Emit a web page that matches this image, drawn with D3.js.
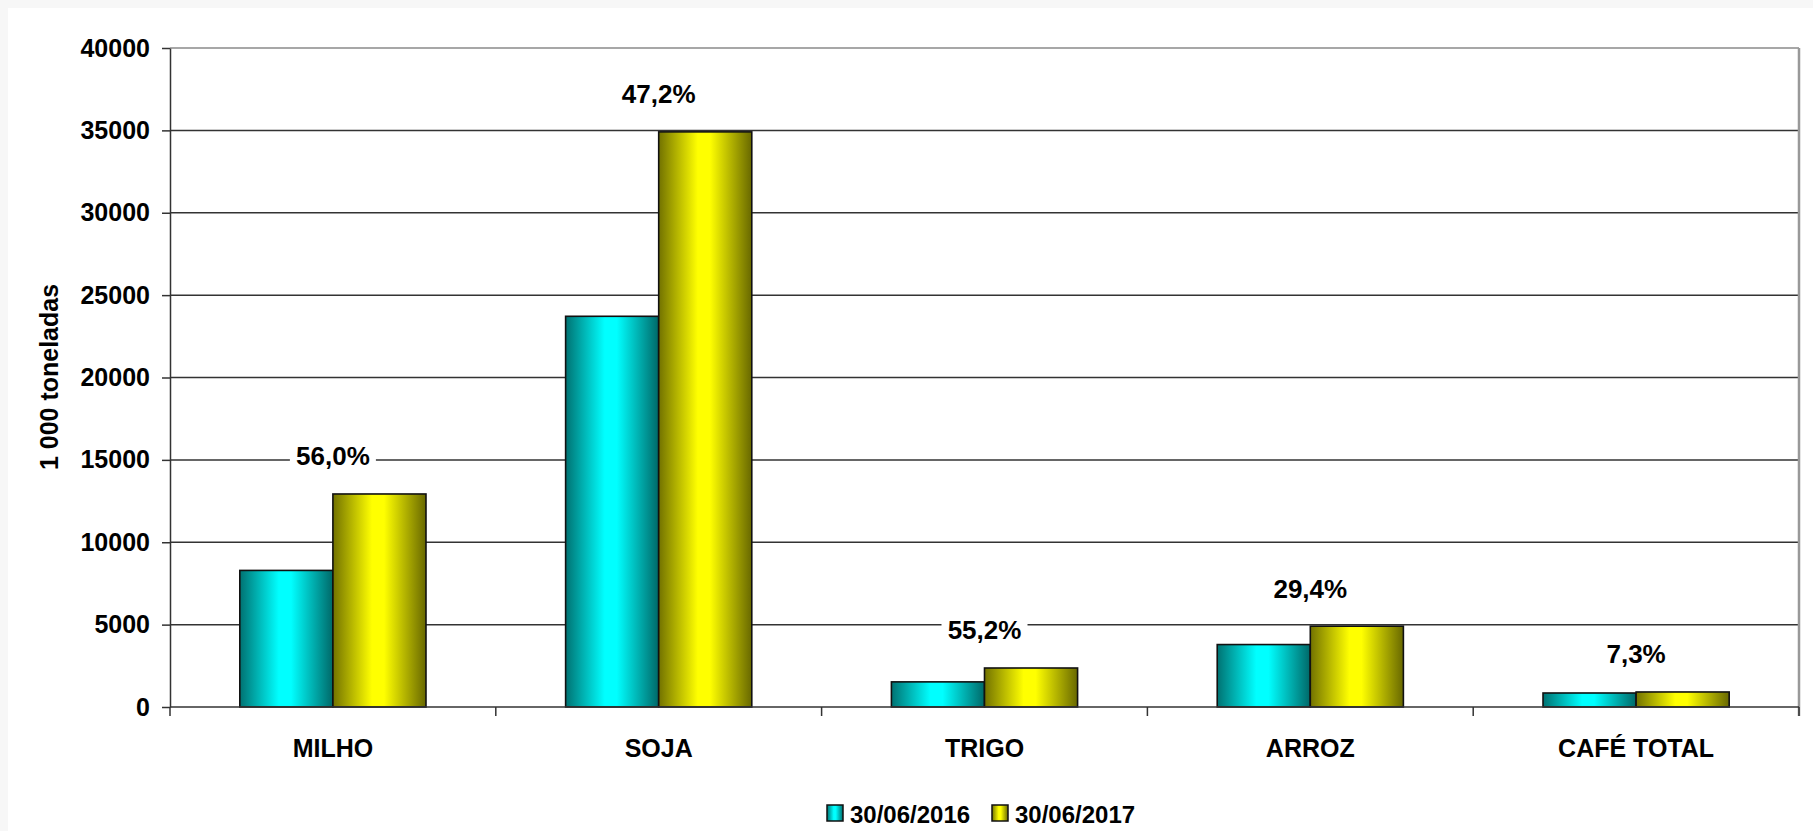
<!DOCTYPE html>
<html>
<head>
<meta charset="utf-8">
<script src="https://cdn.jsdelivr.net/npm/d3@7"></script>
<style>
  body { margin: 0; background: #f7f7f7; }
  svg { display: block; font-family: "Liberation Sans", Arial, sans-serif; font-weight: bold; }
</style>
</head>
<body>
<svg id="chart"></svg>
<script>
const categories = ['MILHO', 'SOJA', 'TRIGO', 'ARROZ', 'CAFÉ TOTAL'];
const seriesNames = ['30/06/2016', '30/06/2017'];
const values2016 = [8290, 23715, 1525, 3790, 850];
const values2017 = [12930, 34909, 2367, 4905, 912];
const changeLabels = ['56,0%', '47,2%', '55,2%', '29,4%', '7,3%'];
const yTicks = [0, 5000, 10000, 15000, 20000, 25000, 30000, 35000, 40000];

const W = 1813, H = 831;
const plotLeft = 170, plotRight = 1799, plotTop = 48, plotBottom = 707;

const svg = d3.select('#chart')
  .attr('width', W)
  .attr('height', H);

// page panel
svg.append('rect').attr('x', 8).attr('y', 8)
  .attr('width', W - 8).attr('height', H - 8)
  .attr('fill', '#fff');

const defs = svg.append('defs');
const grads = [
  {id: 'g2016', dark1: '#007272', bright: '#00ffff', dark2: '#006868'},
  {id: 'g2017', dark1: '#727200', bright: '#ffff00', dark2: '#686800'}
];
grads.forEach(g => {
  const lg = defs.append('linearGradient').attr('id', g.id)
    .attr('x1', '0%').attr('x2', '100%').attr('y1', '0%').attr('y2', '0%');
  lg.append('stop').attr('offset', '0%').attr('stop-color', g.dark1);
  lg.append('stop').attr('offset', '42%').attr('stop-color', g.bright);
  lg.append('stop').attr('offset', '55%').attr('stop-color', g.bright);
  lg.append('stop').attr('offset', '100%').attr('stop-color', g.dark2);
});
const fills = {'30/06/2016': 'url(#g2016)', '30/06/2017': 'url(#g2017)'};

const x = d3.scaleBand().domain(categories).range([plotLeft, plotRight]).padding(0);
const x1 = d3.scaleBand().domain(seriesNames).range([0, x.bandwidth()])
  .paddingInner(0).paddingOuter(0.75);
const y = d3.scaleLinear().domain([0, 40000]).range([plotBottom, plotTop]);

// gridlines
svg.append('g')
  .selectAll('line')
  .data(yTicks.filter(d => d > 0))
  .join('line')
    .attr('x1', plotLeft).attr('x2', plotRight)
    .attr('y1', d => y(d)).attr('y2', d => y(d))
    .attr('stroke', d => d === 40000 ? '#8a8a8a' : '#333')
    .attr('stroke-width', 1.5);

// right border
svg.append('line')
  .attr('x1', plotRight).attr('x2', plotRight)
  .attr('y1', plotTop).attr('y2', plotBottom + 9)
  .attr('stroke', '#999').attr('stroke-width', 2.5);

// y axis
const yAxis = svg.append('g')
  .attr('transform', `translate(${plotLeft},0)`)
  .call(d3.axisLeft(y).tickValues(yTicks).tickSize(8).tickSizeOuter(0).tickPadding(12).tickFormat(d => d));
yAxis.select('.domain').attr('stroke', '#333').attr('stroke-width', 1.5);
yAxis.selectAll('.tick line').attr('stroke', '#333').attr('stroke-width', 1.5);
yAxis.selectAll('.tick text')
  .attr('font-size', 25).attr('font-weight', 'bold')
  .attr('font-family', '"Liberation Sans", Arial, sans-serif').attr('fill', '#000');

// bars
const rows = categories.map((c, i) => ({
  cat: c,
  vals: [{s: seriesNames[0], v: values2016[i]}, {s: seriesNames[1], v: values2017[i]}]
}));

svg.append('g')
  .selectAll('g')
  .data(rows)
  .join('g')
    .attr('transform', d => `translate(${x(d.cat)},0)`)
  .selectAll('rect')
  .data(d => d.vals)
  .join('rect')
    .attr('x', d => x1(d.s))
    .attr('width', x1.bandwidth())
    .attr('y', d => y(d.v))
    .attr('height', d => y(0) - y(d.v))
    .attr('fill', d => fills[d.s])
    .attr('stroke', '#111')
    .attr('stroke-width', 1.6);

// x axis line + boundary ticks
svg.append('line')
  .attr('x1', plotLeft).attr('x2', plotRight)
  .attr('y1', plotBottom).attr('y2', plotBottom)
  .attr('stroke', '#333').attr('stroke-width', 1.5);

svg.append('g')
  .selectAll('line')
  .data(categories.map(c => x(c)).concat([plotRight]))
  .join('line')
    .attr('x1', d => d).attr('x2', d => d)
    .attr('y1', plotBottom).attr('y2', plotBottom + 9)
    .attr('stroke', '#333').attr('stroke-width', 1.5);

const xAxis = svg.append('g')
  .attr('transform', `translate(0,${plotBottom})`)
  .call(d3.axisBottom(x).tickSize(0).tickPadding(32));
xAxis.select('.domain').remove();
xAxis.selectAll('.tick text')
  .attr('font-size', 25).attr('font-weight', 'bold')
  .attr('font-family', '"Liberation Sans", Arial, sans-serif').attr('fill', '#000');

// change labels
const lab = svg.append('g')
  .selectAll('g')
  .data(categories)
  .join('g')
    .attr('transform', (d, i) => `translate(${x(d) + x.bandwidth() / 2},${y(values2017[i]) - 38})`);

lab.append('rect')
  .attr('x', -43).attr('width', 86)
  .attr('y', -16).attr('height', 32)
  .attr('fill', '#fff');

lab.append('text')
  .attr('text-anchor', 'middle')
  .attr('dy', '0.36em')
  .attr('font-size', 26)
  .text((d, i) => changeLabels[i]);

// y title
svg.append('text')
  .attr('transform', 'translate(49,377) rotate(-90)')
  .attr('text-anchor', 'middle')
  .attr('dy', '0.36em')
  .attr('font-size', 25)
  .text('1 000 toneladas');

// legend
const legendX = [827, 992];
const leg = svg.append('g')
  .selectAll('g')
  .data(seriesNames)
  .join('g')
    .attr('transform', (d, i) => `translate(${legendX[i]},805)`);

leg.append('rect')
  .attr('width', 16).attr('height', 16)
  .attr('fill', d => fills[d])
  .attr('stroke', '#111').attr('stroke-width', 1.5);

leg.append('text')
  .attr('x', 23)
  .attr('y', 18)
  .attr('font-size', 24)
  .text(d => d);
</script>
</body>
</html>
